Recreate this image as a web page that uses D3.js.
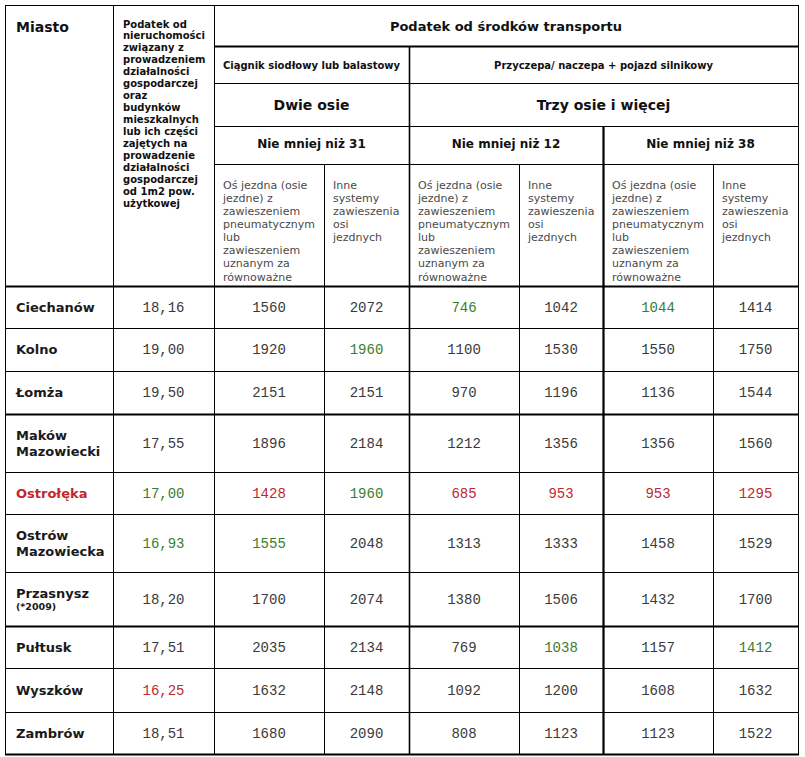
<!DOCTYPE html>
<html>
<head>
<meta charset="utf-8">
<script src="https://cdn.jsdelivr.net/npm/d3@7"></script>
<style>
  body { margin: 0; background: #fff; }
  text { font-family: "DejaVu Sans", Verdana, sans-serif; }
  .num { font-family: "Liberation Mono", "Courier New", monospace; }
</style>
</head>
<body>
<div id="main"></div>
<script>
var cities = ["Ciechanów", "Kolno", "Łomża", "Maków Mazowiecki", "Ostrołęka",
  "Ostrów Mazowiecka", "Przasnysz", "Pułtusk", "Wyszków", "Zambrów"];
var cityNotes = ["", "", "", "", "", "", "(*2009)", "", "", ""];
var propertyTax = [18.16, 19.00, 19.50, 17.55, 17.00, 16.93, 18.20, 17.51, 16.25, 18.51];
var tractorAir = [1560, 1920, 2151, 1896, 1428, 1555, 1700, 2035, 1632, 1680];
var tractorOther = [2072, 1960, 2151, 2184, 1960, 2048, 2074, 2134, 2148, 2090];
var trailer12Air = [746, 1100, 970, 1212, 685, 1313, 1380, 769, 1092, 808];
var trailer12Other = [1042, 1530, 1196, 1356, 953, 1333, 1506, 1038, 1200, 1123];
var trailer38Air = [1044, 1550, 1136, 1356, 953, 1458, 1432, 1157, 1608, 1123];
var trailer38Other = [1414, 1750, 1544, 1560, 1295, 1529, 1700, 1412, 1632, 1522];
// highlighted cells: [column, row]; column 0 = city name
var redCells = [[0, 4], [1, 8], [2, 4], [4, 4], [5, 4], [6, 4], [7, 4]];
var greenCells = [[1, 4], [1, 5], [2, 5], [3, 1], [3, 4], [4, 0], [5, 7], [6, 0], [7, 7]];

var headTop = "Podatek od środków transportu";
var headGroups = ["Ciągnik siodłowy lub balastowy", "Przyczepa/ naczepa + pojazd silnikowy"];
var headAxles = ["Dwie osie", "Trzy osie i więcej"];
var headWeights = ["Nie mniej niż 31", "Nie mniej niż 12", "Nie mniej niż 38"];
var propertyHead = ["Podatek od", "nieruchomości", "związany z", "prowadzeniem", "działalności",
  "gospodarczej", "oraz", "budynków", "mieszkalnych", "lub ich części", "zajętych na",
  "prowadzenie", "działalności", "gospodarczej", "od 1m2 pow.", "użytkowej"];
var airHead = ["Oś jezdna (osie", "jezdne) z", "zawieszeniem", "pneumatycznym", "lub",
  "zawieszeniem", "uznanym za", "równoważne"];
var otherHead = ["Inne", "systemy", "zawieszenia", "osi", "jezdnych"];

var width = 805, height = 757;
var svg = d3.select("#main").append("svg")
  .attr("width", width).attr("height", height);
svg.append("rect").attr("width", width).attr("height", height).attr("fill", "#fff");

// column edges and row heights
var colX = [5, 113, 214, 324, 409, 519, 603, 713, 798];
var headY = [5, 46, 83, 126, 164, 286];
var rowH = [42, 43, 43, 58, 42, 58, 54, 42, 44, 42];
var rowY = [286].concat(Array.from(d3.cumsum(rowH), function (d) { return 286 + d; }));

var y = d3.scaleOrdinal().domain(d3.range(cities.length)).range(rowY.slice(0, -1));
var cx = function (c) { return (colX[c] + colX[c + 1]) / 2; };

var red = "#c0282e", green = "#3b7d2e";
function cellColor(c, r, base) {
  if (redCells.some(function (p) { return p[0] == c && p[1] == r; })) return red;
  if (greenCells.some(function (p) { return p[0] == c && p[1] == r; })) return green;
  return base;
}

var grid = svg.append("g").attr("fill", "none").attr("stroke", "#000").attr("stroke-width", 1);
function box(x0, y0, x1, y1) {
  grid.append("rect").attr("x", x0 + 0.5).attr("y", y0 + 0.5)
    .attr("width", x1 - x0).attr("height", y1 - y0);
}
// header cells
box(colX[0], headY[0], colX[1], headY[5]);
box(colX[1], headY[0], colX[2], headY[5]);
box(colX[2], headY[0], colX[8], headY[1]);
box(colX[2], headY[1], colX[4], headY[2]);
box(colX[4], headY[1], colX[8], headY[2]);
box(colX[2], headY[2], colX[4], headY[3]);
box(colX[4], headY[2], colX[8], headY[3]);
box(colX[2], headY[3], colX[4], headY[4]);
box(colX[4], headY[3], colX[6], headY[4]);
box(colX[6], headY[3], colX[8], headY[4]);
for (var c = 2; c < 8; c++) box(colX[c], headY[4], colX[c + 1], headY[5]);
// body cells
cities.forEach(function (d, r) {
  for (var c = 0; c < 8; c++) box(colX[c], rowY[r], colX[c + 1], rowY[r + 1]);
});
// thick rules
var thick = svg.append("g").attr("stroke", "#000").attr("stroke-width", 2.2);
function hline(x0, x1, yy) { thick.append("line").attr("x1", x0).attr("x2", x1 + 1).attr("y1", yy + 0.5).attr("y2", yy + 0.5); }
function vline(xx, y0, y1) { thick.append("line").attr("x1", xx + 0.5).attr("x2", xx + 0.5).attr("y1", y0).attr("y2", y1 + 1); }
hline(colX[2], colX[8], headY[1]);
hline(colX[0], colX[8], headY[5]);
hline(colX[0], colX[8], rowY[3]);
hline(colX[0], colX[8], rowY[7]);
hline(colX[0], colX[8], rowY[10]);
vline(colX[6], headY[3], rowY[10]);
thick.append("line").attr("x1", colX[4] + 0.5).attr("x2", colX[4] + 0.5)
  .attr("y1", headY[1]).attr("y2", rowY[10] + 1).attr("stroke-width", 1.6);

// header texts
var head = svg.append("g").attr("fill", "#111").attr("font-weight", "bold");
head.append("text").attr("x", 16).attr("y", 27).attr("dy", "0.35em")
  .attr("font-size", 14).text("Miasto");
head.append("text")
  .attr("x", (colX[2] + colX[8]) / 2).attr("y", 26).attr("dy", "0.35em")
  .attr("text-anchor", "middle").attr("font-size", 13).text(headTop);
head.selectAll(".grp").data(headGroups).join("text")
  .attr("x", function (d, i) { return i == 0 ? (colX[2] + colX[4]) / 2 : (colX[4] + colX[8]) / 2; })
  .attr("y", 65).attr("dy", "0.35em").attr("text-anchor", "middle")
  .attr("font-size", 10).text(function (d) { return d; });
head.selectAll(".axl").data(headAxles).join("text")
  .attr("x", function (d, i) { return i == 0 ? (colX[2] + colX[4]) / 2 : (colX[4] + colX[8]) / 2; })
  .attr("y", 105).attr("dy", "0.35em").attr("text-anchor", "middle")
  .attr("font-size", 14).text(function (d) { return d; });
head.selectAll(".wgt").data(headWeights).join("text")
  .attr("x", function (d, i) { return (colX[2 + 2 * i] + colX[4 + 2 * i]) / 2; })
  .attr("y", 144).attr("dy", "0.35em").attr("text-anchor", "middle")
  .attr("font-size", 12).text(function (d) { return d; });

function block(g, lines, x0, y0, step) {
  var t = g.append("text");
  t.selectAll("tspan").data(lines).join("tspan")
    .attr("x", x0).attr("y", function (d, i) { return y0 + i * step; })
    .attr("dy", "0.35em")
    .text(function (d) { return d; });
}
var propG = svg.append("g").attr("fill", "#111").attr("font-weight", "bold").attr("font-size", 10);
block(propG, propertyHead, colX[1] + 10, 24, 11.95);
var subG = svg.append("g").attr("fill", "#4a4a4a").attr("font-size", 11);
for (var k = 0; k < 3; k++) {
  block(subG, airHead, colX[2 + 2 * k] + 9, 185, 13.1);
  block(subG, otherHead, colX[3 + 2 * k] + 9, 185, 13.1);
}

// body
var body = svg.append("g");
var fmt = function (v) { return d3.format(".2f")(v).replace(".", ","); };
cities.forEach(function (name, r) {
  var yc = y(r) + rowH[r] / 2;
  var parts = name.split(" ");
  var nameG = body.append("g").attr("font-weight", "bold").attr("font-size", 13)
    .attr("fill", cellColor(0, r, "#1a1a1a"));
  if (cityNotes[r]) {
    nameG.append("text").attr("x", 16).attr("y", yc - 6).attr("dy", "0.35em").text(name);
    nameG.append("text").attr("x", 16).attr("y", yc + 8).attr("dy", "0.35em")
      .attr("font-size", 9.5).text(cityNotes[r]);
  } else if (parts.length > 1) {
    nameG.append("text").attr("x", 16).attr("y", yc - 7.5).attr("dy", "0.35em").text(parts[0]);
    nameG.append("text").attr("x", 16).attr("y", yc + 8.5).attr("dy", "0.35em").text(parts[1]);
  } else {
    nameG.append("text").attr("x", 16).attr("y", yc).attr("dy", "0.35em").text(name);
  }
  var vals = [fmt(propertyTax[r]), tractorAir[r], tractorOther[r], trailer12Air[r],
    trailer12Other[r], trailer38Air[r], trailer38Other[r]];
  vals.forEach(function (v, j) {
    body.append("text").attr("class", "num")
      .attr("x", cx(j + 1)).attr("y", yc).attr("dy", "0.35em")
      .attr("text-anchor", "middle").attr("font-size", 14)
      .attr("fill", cellColor(j + 1, r, "#3a3a3a"))
      .text(v);
  });
});
</script>
</body>
</html>
